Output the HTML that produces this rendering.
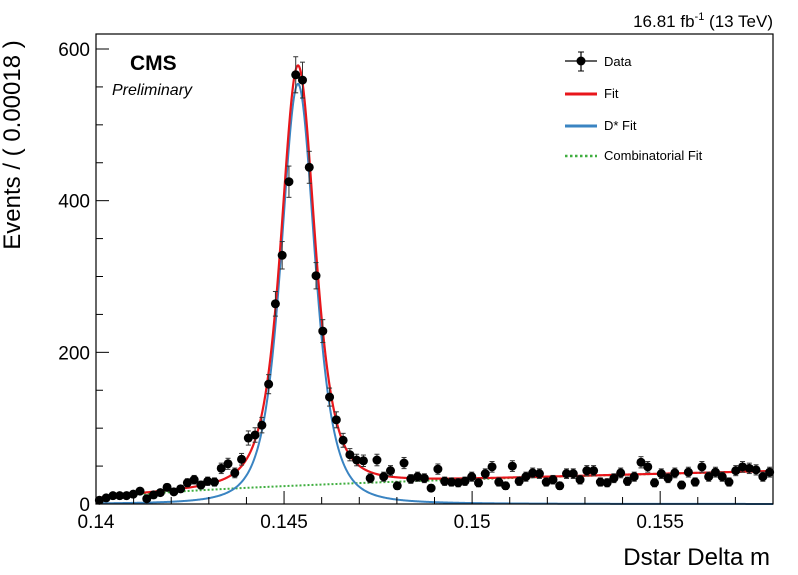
<!DOCTYPE html>
<html><head><meta charset="utf-8"><style>
html,body{margin:0;padding:0;background:#fff;}
svg{display:block;font-family:"Liberation Sans",Arial,sans-serif;}
</style></head><body>
<svg id="chart" width="798" height="575" viewBox="0 0 798 575">
<rect x="0" y="0" width="798" height="575" fill="#fff"/>
<g id="curves"></g>
<g id="points"></g>
<rect x="96" y="34" width="677" height="470" fill="none" stroke="#000" stroke-width="1.2"/>
<g id="axes"></g>
<text x="20" y="145" font-size="24" text-anchor="middle" transform="rotate(-90 20 145)">Events / ( 0.00018 )</text>
<text x="770" y="565" font-size="24" text-anchor="end">Dstar Delta m</text>
<text x="130" y="70" font-size="21" font-weight="bold">CMS</text>
<text x="112" y="95" font-size="16" font-style="italic">Preliminary</text>
<text x="773" y="27" font-size="17" text-anchor="end">16.81 fb<tspan dy="-7" font-size="11">-1</tspan><tspan dy="7"> (13 TeV)</tspan></text>
<g>
 <g>
  <line x1="565" y1="61" x2="597" y2="61" stroke="#000" stroke-width="1.2"/>
  <line x1="581" y1="52" x2="581" y2="71" stroke="#000" stroke-width="1.2"/>
  <line x1="578" y1="52" x2="584" y2="52" stroke="#000"/><line x1="578" y1="71" x2="584" y2="71" stroke="#000"/>
  <circle cx="581" cy="61" r="4.5" fill="#000"/>
  <text x="604" y="66" font-size="13">Data</text>
 </g>
 <g>
  <line x1="565" y1="94" x2="597" y2="94" stroke="#e8161b" stroke-width="3"/>
  <text x="604" y="98" font-size="13">Fit</text>
 </g>
 <g>
  <line x1="565" y1="126" x2="597" y2="126" stroke="#3a84c2" stroke-width="3"/>
  <text x="604" y="130" font-size="13">D* Fit</text>
 </g>
 <g>
  <line x1="565" y1="156" x2="597" y2="156" stroke="#3fae3f" stroke-width="2.5" stroke-dasharray="2.5,2.5"/>
  <text x="604" y="160" font-size="13">Combinatorial Fit</text>
 </g>
</g>
</svg>
<script>
const counts = [5,8,11,11,11,13,17,7,12,15,22,16,20,28,32,25,30,29,47,53,41,59,87,91,104,
158,264,328,425,566,559,444,301,228,141,111,84,65,58,57,34,58,36,44,24,54,33,36,34,21,46,30,29,
28,30,36,28,40,49,29,24,50,30,36,41,40,29,32,24,40,40,32,44,44,29,28,34,41,30,36,55,49,28,40,34,41,25,42,29,49,36,42,36,29,44,49,47,45,36,42];
const xRange = [0.14, 0.158];
const binWidth = [0.00018];
const yTicks = [0, 200, 400, 600];
const xTickValues = [0.14, 0.145, 0.15, 0.155];
const xTickLabels = ["0.14", "0.145", "0.15", "0.155"];
// signal core: amplitude, mean, width, power ; signal tail: amplitude, width, power ; background: scale, threshold, exponent
const sigParams = [540, 0.14537, 0.00092, 2.5];
const tailParams = [14, 0.0022, 1.5];
const bgParams = [320, 0.13957, 0.5];

const L=96,R=773,T=34,B=504;
const sx=v=>L+(v-xRange[0])/(xRange[1]-xRange[0])*(R-L);
const sy=v=>B-v*(B-49)/600;
const NS='http://www.w3.org/2000/svg';
function mk(tag,attrs,parent){const e=document.createElementNS(NS,tag);for(const k in attrs)e.setAttribute(k,attrs[k]);parent.appendChild(e);return e;}
const axes=document.getElementById('axes');
for(let v=0;v<=600;v+=50){const y=sy(v);const major=v%200===0;
 const t=mk('line',{x1:L,x2:L+(major?13:7),y1:y,y2:y,stroke:'#000','stroke-width':1},axes);
 
 }
yTicks.forEach(v=>{const t=mk('text',{x:L-6,y:sy(v)+7,'font-size':19,'text-anchor':'end'},axes);t.textContent=String(v);
 
 });
for(let k=0;k<=18;k++){const v=xRange[0]+k*0.001;const x=sx(v);const major=k%5===0;
 const t=mk('line',{x1:x,x2:x,y1:B,y2:B-(major?13:7),stroke:'#000','stroke-width':1},axes);
 
 }
xTickValues.forEach((v,i)=>{const t=mk('text',{x:sx(v),y:528,'font-size':19,'text-anchor':'middle'},axes);t.textContent=xTickLabels[i];
 
 });
const sig=x=>sigParams[0]*Math.pow(1+Math.pow((x-sigParams[1])/sigParams[2],2),-sigParams[3])
  + tailParams[0]*Math.pow(1+Math.pow((x-sigParams[1])/tailParams[1],2),-tailParams[2]);
const bg=x=>x>bgParams[1]?bgParams[0]*Math.pow(x-bgParams[1],bgParams[2]):0;
const cg=document.getElementById('curves');
function path(f){let d='';for(let i=0;i<=900;i++){const x=xRange[0]+(xRange[1]-xRange[0])*i/900;d+=(i?'L':'M')+sx(x).toFixed(2)+','+sy(f(x)).toFixed(2);}return d;}
const pg=mk('path',{d:path(bg),fill:'none',stroke:'#3fae3f','stroke-width':2,'stroke-dasharray':'2,2'},cg);


const ps=mk('path',{d:path(sig),fill:'none',stroke:'#3a84c2','stroke-width':2},cg);


const pf=mk('path',{d:path(x=>sig(x)+bg(x)),fill:'none',stroke:'#e8161b','stroke-width':2.2},cg);


const pts=document.getElementById('points');
counts.forEach((n,i)=>{const xc=sx(xRange[0]+(i+0.5)*binWidth[0]);const e=Math.sqrt(n);
 const g=mk('g',{},pts);
 
 
 const y1=sy(n+e),y2=sy(Math.max(0,n-e));
 mk('line',{x1:xc,x2:xc,y1:y1,y2:y2,stroke:'#333','stroke-width':1},g);
 mk('line',{x1:xc-2.5,x2:xc+2.5,y1:y1,y2:y1,stroke:'#333','stroke-width':1},g);
 mk('line',{x1:xc-2.5,x2:xc+2.5,y1:y2,y2:y2,stroke:'#333','stroke-width':1},g);
 mk('circle',{cx:xc,cy:sy(n),r:4.5,fill:'#000'},g);});
</script>
</body></html>
